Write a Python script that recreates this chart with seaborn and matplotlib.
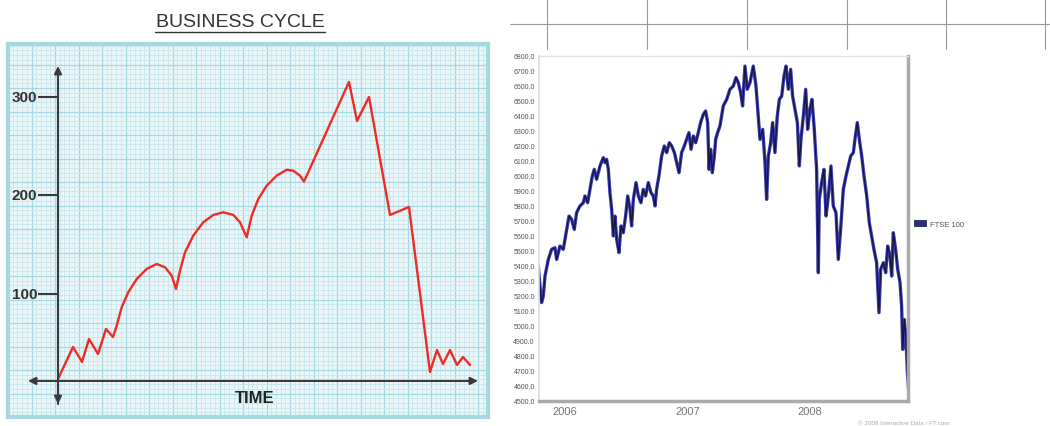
import numpy as np
import pandas as pd
import matplotlib
matplotlib.use("Agg")
import matplotlib.pyplot as plt
import seaborn as sns
from matplotlib.lines import Line2D
from matplotlib.patches import Patch

# ---------------- data ----------------
cycle_title = "BUSINESS CYCLE"
cycle_xlabel = "TIME"
cycle_ticks = [100, 200, 300]
cycle_time = [0, 15, 24, 31, 40, 48, 55,
              58.7, 63.7, 70.3, 78.7, 88.7, 98.7, 107, 113.7, 118,
              122, 127, 135.3, 145.3, 155.3, 165.3, 175.3, 182, 188.7,
              193.7, 200.3, 208.7, 218.7, 228.7, 235.3, 242, 246,
              291, 299, 311, 332, 351,
              372, 379, 385, 392, 399, 405, 412]
cycle_value = [13.7, 46.2, 31.0, 54.3, 39.1, 64.4, 56.3,
               67.8, 86.5, 101.7, 115.2, 125.4, 130.4, 127.1, 118.6, 105.1,
               123.6, 142.3, 159.2, 172.8, 180.2, 182.9, 180.2, 172.8, 157.5,
               179.5, 196.4, 209.9, 220.1, 226.1, 225.1, 220.1, 214.0,
               315.2, 275.6, 299.9, 180.2, 188.3,
               20.8, 43.1, 28.9, 43.1, 27.9, 36.0, 27.9]

ftse_year = [2005.782, 2005.796, 2005.809, 2005.823, 2005.837, 2005.864, 2005.891, 2005.918, 2005.932, 2005.959,
             2005.986, 2006.014, 2006.033, 2006.054, 2006.076, 2006.095, 2006.122, 2006.150, 2006.163, 2006.185,
             2006.204, 2006.223, 2006.239, 2006.258, 2006.286, 2006.313, 2006.327, 2006.340, 2006.354, 2006.367,
             2006.381, 2006.395, 2006.408, 2006.422, 2006.441, 2006.457, 2006.476, 2006.495, 2006.512, 2006.531,
             2006.544, 2006.558, 2006.580, 2006.599, 2006.620, 2006.639, 2006.658, 2006.680, 2006.702, 2006.721,
             2006.735, 2006.748, 2006.767, 2006.789, 2006.811, 2006.830, 2006.852, 2006.871, 2006.893, 2006.912,
             2006.931, 2006.952, 2006.974, 2006.993, 2007.012, 2007.029, 2007.048, 2007.067, 2007.088, 2007.107,
             2007.129, 2007.148, 2007.165, 2007.176, 2007.189, 2007.203, 2007.219, 2007.230, 2007.246, 2007.265,
             2007.292, 2007.320, 2007.347, 2007.374, 2007.396, 2007.415, 2007.434, 2007.450, 2007.469, 2007.488,
             2007.510, 2007.537, 2007.559, 2007.578, 2007.592, 2007.614, 2007.633, 2007.646, 2007.660, 2007.679,
             2007.695, 2007.714, 2007.733, 2007.750, 2007.769, 2007.788, 2007.804, 2007.823, 2007.842, 2007.858,
             2007.878, 2007.897, 2007.913, 2007.926, 2007.946, 2007.965, 2007.981, 2008.000, 2008.016, 2008.035,
             2008.054, 2008.068, 2008.076, 2008.095, 2008.114, 2008.131, 2008.150, 2008.171, 2008.190, 2008.212,
             2008.231, 2008.250, 2008.272, 2008.294, 2008.313, 2008.332, 2008.354, 2008.367, 2008.386, 2008.403,
             2008.422, 2008.441, 2008.463, 2008.484, 2008.503, 2008.522, 2008.544, 2008.563, 2008.577, 2008.599,
             2008.618, 2008.634, 2008.653, 2008.667, 2008.680, 2008.699, 2008.716, 2008.735, 2008.748, 2008.757,
             2008.770, 2008.784, 2008.795, 2008.811]
ftse_value = [5400, 5267, 5156, 5200, 5333, 5444, 5511, 5522, 5444, 5533,
              5511, 5644, 5733, 5711, 5644, 5756, 5800, 5822, 5867, 5822,
              5911, 6000, 6044, 5978, 6067, 6122, 6089, 6111, 6044, 5889,
              5778, 5600, 5733, 5578, 5489, 5667, 5622, 5733, 5867, 5778,
              5667, 5844, 5956, 5867, 5822, 5911, 5867, 5956, 5889, 5867,
              5800, 5911, 6000, 6133, 6200, 6156, 6222, 6200, 6156, 6089,
              6022, 6156, 6200, 6244, 6289, 6178, 6267, 6222, 6289, 6356,
              6411, 6433, 6356, 6044, 6178, 6022, 6133, 6244, 6289, 6333,
              6467, 6511, 6578, 6600, 6656, 6622, 6556, 6467, 6733, 6578,
              6622, 6733, 6600, 6400, 6244, 6311, 6089, 5844, 6133, 6222,
              6356, 6156, 6400, 6511, 6533, 6667, 6733, 6578, 6711, 6533,
              6444, 6356, 6067, 6244, 6400, 6578, 6311, 6444, 6511, 6311,
              6044, 5356, 5844, 5956, 6044, 5733, 5867, 6067, 5800, 5756,
              5444, 5644, 5911, 6000, 6067, 6133, 6156, 6244, 6356, 6244,
              6133, 6000, 5867, 5689, 5600, 5511, 5422, 5089, 5378, 5422,
              5356, 5533, 5467, 5333, 5622, 5511, 5378, 5289, 5133, 4844,
              5044, 4911, 4689, 4511]
ftse_ticks = list(range(4500, 6801, 100))
ftse_year_ticks = [2006, 2007, 2008]
ftse_year_labels = ["2006", "2007", "2008"]
ftse_legend = "FTSE 100"
ftse_credit = "\u00a9 2008 Interactive Data / FT.com"

# ---------------- style ----------------
sns.set_style("white")
plt.rcParams["font.family"] = ["Liberation Sans", "DejaVu Sans"]

W, H = 1050, 427
fig = plt.figure(figsize=(W / 100, H / 100), dpi=100)
fig.patch.set_facecolor("white")

def fxp(px):
    return px / W

def fyp(py):
    return 1 - py / H

# ---------------- left panel: business cycle ----------------
axL = fig.add_axes([fxp(8), fyp(418), 480 / W, 373 / H])
axL.set_facecolor("#eaf6f8")
axL.set_xlim(-50, 430)
axL.set_ylim(-24.9, 353.7)
axL.set_xticks(np.arange(-50, 431, 23.5))
axL.set_xticks(np.arange(-50, 431, 4.7), minor=True)
axL.set_yticks(np.arange(-24.9, 354, 23.85))
axL.set_yticks(np.arange(-24.9, 354, 4.77), minor=True)
axL.tick_params(which="both", length=0, labelbottom=False, labelleft=False)
axL.grid(which="minor", color="#c6e7ed", lw=0.6)
axL.grid(which="major", color="#a6d8e1", lw=0.9)
axL.set_axisbelow(True)
for s in axL.spines.values():
    s.set_color("#a7d7df")
    s.set_linewidth(3)

axis_col = "#3a3a3a"
axL.annotate("", xy=(0, 331.4), xytext=(0, -11.7),
             arrowprops=dict(arrowstyle="-|>", color=axis_col, lw=1.5,
                             mutation_scale=11, shrinkA=0, shrinkB=0))
axL.annotate("", xy=(0, -11.7), xytext=(0, 11.7),
             arrowprops=dict(arrowstyle="-|>", color=axis_col, lw=1.5,
                             mutation_scale=11, shrinkA=0, shrinkB=0))
axL.annotate("", xy=(420, 11.7), xytext=(0, 11.7),
             arrowprops=dict(arrowstyle="-|>", color=axis_col, lw=1.5,
                             mutation_scale=11, shrinkA=0, shrinkB=0))
axL.annotate("", xy=(-30, 11.7), xytext=(0, 11.7),
             arrowprops=dict(arrowstyle="-|>", color=axis_col, lw=1.5,
                             mutation_scale=11, shrinkA=0, shrinkB=0))
for v in cycle_ticks:
    axL.plot([-20, 0], [v, v], color=axis_col, lw=1.5, solid_capstyle="butt")
    axL.text(-20.5, v, str(v), ha="right", va="center", fontsize=11,
             fontweight="bold", color="#333333")
axL.text(197, -5.6, cycle_xlabel, ha="center", va="center", fontsize=12,
         fontweight="bold", color="#222222")

sns.lineplot(x=cycle_time, y=cycle_value, ax=axL, color="#ee2b25", lw=1.7,
             estimator=None, sort=False)
axL.set_xlabel("")
axL.set_ylabel("")

fig.text(fxp(240), fyp(22.5), cycle_title, ha="center", va="center",
         fontsize=14, color="#333333")
fig.add_artist(Line2D([fxp(155), fxp(325)], [fyp(32.5), fyp(32.5)],
                      color="#333333", lw=1.0))

# ---------------- right panel: FTSE 100 ----------------
axR = fig.add_axes([fxp(539), fyp(402), 369 / W, 345 / H])
axR.set_facecolor("white")
sns.lineplot(x=ftse_year, y=ftse_value, ax=axR, color="#3a3ab4", lw=2.4,
             estimator=None, sort=False)
sns.lineplot(x=ftse_year, y=ftse_value, ax=axR, color="#15153f", lw=0.9,
             estimator=None, sort=False)
axR.set_xlim(2005.788, 2008.80)
axR.set_ylim(4500, 6800)
axR.set_yticks(ftse_ticks)
axR.set_yticklabels([f"{t:.1f}" for t in ftse_ticks])
axR.set_xticks(ftse_year_ticks)
axR.set_xticklabels(ftse_year_labels)
axR.tick_params(axis="y", labelsize=5, labelcolor="#555555", length=3,
                direction="in", color="#cfd5dc", pad=3)
axR.tick_params(axis="x", labelsize=8, labelcolor="#777777", length=2,
                direction="out", color="#bbbbbb", pad=1.5)
axR.set_xlabel("")
axR.set_ylabel("")
axR.spines["left"].set_color("#d3dbe3")
axR.spines["left"].set_linewidth(1.2)
axR.spines["top"].set_color("#dde3ea")
axR.spines["top"].set_linewidth(1.0)
for k in ("right", "bottom"):
    axR.spines[k].set_color("#aaaaaa")
    axR.spines[k].set_linewidth(2.5)

leg = fig.legend(handles=[Patch(facecolor="#2b2b8c", edgecolor="#111133",
                                lw=0.5, label=ftse_legend)],
                 loc="center left", bbox_to_anchor=(fxp(914), fyp(225)),
                 frameon=False, fontsize=5.5, handlelength=1.6,
                 handleheight=0.9, handletextpad=0.5, borderpad=0,
                 borderaxespad=0)
for t in leg.get_texts():
    t.set_color("#555555")

fig.text(fxp(858), fyp(424), ftse_credit, ha="left", va="center",
         fontsize=4.5, color="#aaaaaa")

# top strip of the page above the chart
fig.add_artist(Line2D([fxp(510), 1.0], [fyp(25), fyp(25)], color="#9a9a9a", lw=0.8))
for px in (547, 647, 747, 847, 946, 1045):
    fig.add_artist(Line2D([fxp(px), fxp(px)], [fyp(0), fyp(50)],
                          color="#9a9a9a", lw=0.8))

fig.savefig("out.png", dpi=100)
